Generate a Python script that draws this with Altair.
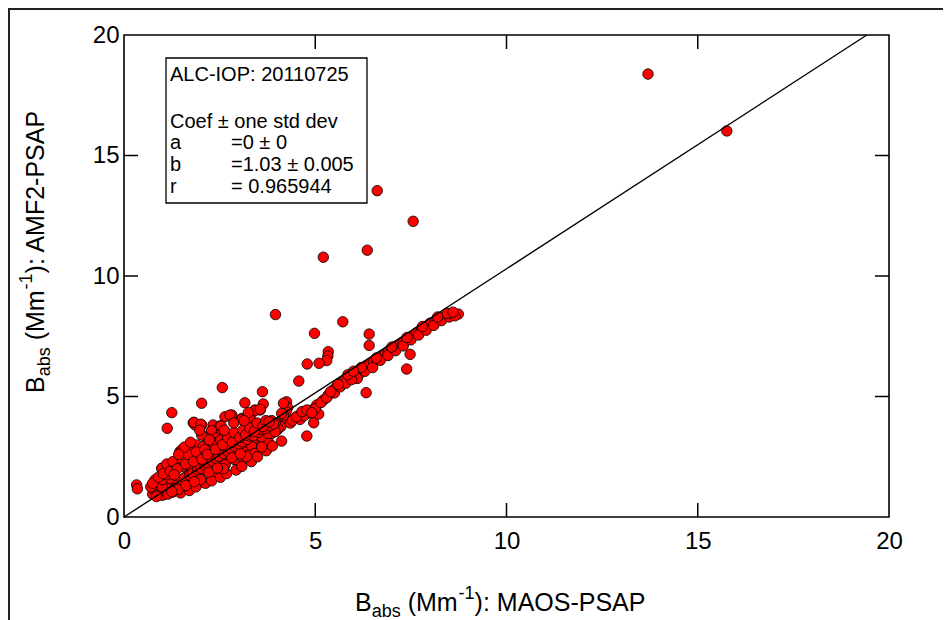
import altair as alt
import pandas as pd

# ---------------- data ----------------
# outliers / isolated points
xa = [13.70, 15.76, 6.62, 7.56, 6.36, 5.21, 3.96, 5.72, 4.98, 6.41, 6.41, 5.34, 5.33, 5.30, 4.79, 5.10,
      4.57, 7.48, 7.39, 6.33, 4.78, 4.96, 5.09, 2.57, 3.62, 2.03, 3.16, 3.64, 1.25, 1.13, 0.33, 0.35]
ya = [18.38, 16.02, 13.54, 12.27, 11.07, 10.78, 8.40, 8.10, 7.62, 7.59, 7.12, 6.86, 6.68, 6.49, 6.35, 6.38,
      5.64, 6.75, 6.14, 5.16, 3.36, 3.91, 4.27, 5.37, 5.20, 4.72, 4.74, 4.69, 4.33, 3.68, 1.33, 1.17]
# main band 4 - 8.7
xb = [3.99, 4.25, 4.51, 4.69, 4.91, 5.04, 5.21, 5.34, 5.47, 5.56, 5.69, 5.78, 5.91, 6.04, 6.17, 6.26, 6.34,
      6.43, 6.52, 6.61, 6.74, 6.82, 6.91, 7.00, 7.08, 7.22, 7.30, 7.39, 7.52, 7.65, 7.78, 7.87, 8.00, 8.13,
      8.22, 8.35, 8.48, 8.61, 8.74]
yb = [3.89, 3.96, 4.16, 4.37, 4.44, 4.65, 4.85, 5.06, 5.27, 5.41, 5.57, 5.68, 5.80, 5.89, 5.96, 6.10, 6.27,
      6.35, 6.44, 6.54, 6.65, 6.72, 6.86, 6.96, 7.07, 7.18, 7.23, 7.34, 7.48, 7.65, 7.79, 7.90, 8.04, 8.10,
      8.17, 8.29, 8.38, 8.42, 8.42]
xc = [6.10, 6.30, 6.50, 6.70, 6.90, 7.10, 7.30, 7.50, 7.70, 7.90, 8.10, 8.30, 8.50, 8.65, 6.20, 6.60, 7.00,
      7.40, 7.80, 8.20, 8.45, 8.60]
yc = [5.75, 6.05, 6.20, 6.50, 6.70, 6.90, 7.10, 7.35, 7.55, 7.75, 7.95, 8.15, 8.30, 8.35, 6.20, 6.60, 7.05,
      7.45, 7.90, 8.30, 8.45, 8.50]
xd = [4.10, 4.35, 4.60, 4.80, 5.00, 5.15, 5.30, 5.50, 5.65, 5.80, 5.95, 4.00, 4.40, 4.70, 5.40, 5.60, 5.85, 6.00]
yd = [3.75, 3.90, 4.05, 4.30, 4.50, 4.75, 4.95, 5.15, 5.40, 5.55, 5.70, 3.60, 4.00, 4.20, 5.20, 5.50, 5.90, 6.05]
# middle cloud
xe = [1.81, 1.86, 2.03, 2.64, 2.82, 3.08, 3.29, 3.42, 3.56, 3.29, 2.33, 2.51, 2.29, 2.47, 4.25, 4.28, 4.24,
      4.17, 3.86, 3.73, 3.51, 3.38, 3.12, 2.95, 2.77, 2.64, 4.51, 4.65, 4.78, 4.91, 1.46, 0.99]
ye = [3.91, 3.82, 3.82, 4.16, 4.23, 4.09, 4.16, 4.44, 4.44, 4.30, 3.82, 3.78, 3.54, 3.40, 4.78, 4.54, 4.37,
      4.23, 4.00, 3.47, 3.33, 3.03, 3.06, 2.92, 2.78, 2.16, 4.16, 4.37, 4.44, 4.33, 2.71, 2.02]
xf = [1.83, 2.01, 2.77, 3.08, 3.29, 3.42, 3.56, 3.25, 2.54, 2.29, 2.42, 2.16, 2.03, 2.68, 2.82, 2.99, 3.12, 3.25,
      3.34, 3.60, 3.77, 3.86, 4.03, 3.95,
      1.51, 1.73, 1.90, 2.07, 2.25, 2.42, 2.60, 2.77, 2.95, 3.12,
      1.46, 1.68, 1.86, 2.03, 2.20, 2.38, 2.55, 2.77, 2.99, 3.25, 3.42,
      0.99, 1.20, 1.38, 1.55, 1.77, 1.94, 2.12, 2.33, 2.64, 2.90, 3.12,
      0.81, 1.03, 1.20, 1.42, 1.64, 1.86, 2.07, 2.29,
      0.90, 1.07, 1.25, 1.46, 1.68, 1.90, 0.85, 1.07, 1.29, 1.51,
      3.60, 3.77, 3.95, 4.12, 4.17]
yf = [3.93, 3.85, 4.23, 4.05, 4.14, 4.41, 4.47, 4.33, 3.78, 3.58, 3.27, 3.27, 3.40, 3.47, 3.33, 3.40, 3.20, 3.47,
      2.92, 2.99, 3.12, 3.47, 3.68, 3.89,
      2.78, 2.85, 2.99, 2.92, 2.99, 2.85, 2.99, 2.92, 2.78, 2.71,
      2.50, 2.57, 2.43, 2.57, 2.43, 2.53, 2.43, 2.47, 2.47, 2.57, 2.64,
      2.02, 2.09, 2.16, 2.09, 1.95, 2.02, 1.95, 1.88, 2.16, 2.37, 2.43,
      1.54, 1.61, 1.67, 1.54, 1.67, 1.54, 1.46, 1.74,
      1.26, 1.19, 1.26, 1.33, 1.26, 1.33, 0.91, 0.95, 1.05, 1.12,
      3.33, 3.47, 3.54, 4.30, 4.72]
# along the fit line, below it, near the origin, above it
xg = [1.02, 1.12, 1.18, 1.33, 1.41, 1.52, 1.58, 1.72, 1.79, 1.93, 2.01, 2.12, 2.19, 2.31, 2.42, 2.48, 2.61,
      2.72, 2.79, 2.91, 3.02, 3.09, 3.22, 3.31, 3.38, 3.52, 3.61, 3.68, 3.82, 3.91]
yg = [0.98, 1.17, 1.22, 1.33, 1.42, 1.55, 1.62, 1.74, 1.81, 1.95, 2.02, 2.14, 2.21, 2.33, 2.41, 2.52, 2.63,
      2.71, 2.84, 2.93, 3.01, 3.12, 3.22, 3.35, 3.37, 3.51, 3.63, 3.66, 3.79, 3.86]
xh = [1.48, 1.71, 1.88, 2.13, 2.29, 2.52, 2.68, 2.93, 3.08, 3.33, 3.49, 3.72, 3.88, 4.12, 2.00, 2.60, 3.20,
      3.60, 1.22, 1.42, 1.62, 1.84, 2.22, 2.44, 2.82, 3.04]
yh = [1.00, 1.10, 1.25, 1.40, 1.50, 1.65, 1.80, 1.95, 2.10, 2.30, 2.50, 2.75, 2.95, 3.15, 1.55, 2.00, 2.50,
      2.90, 1.02, 1.14, 1.31, 1.47, 1.86, 2.03, 2.46, 2.62]
xi = [0.75, 0.80, 0.85, 0.90, 0.95, 1.00, 1.05, 0.80, 0.90, 1.10, 1.15, 1.25, 0.85, 1.00, 0.70, 0.75, 1.20,
      1.00, 1.10, 0.90]
yi = [0.95, 1.10, 1.20, 1.00, 1.30, 0.90, 1.10, 1.35, 1.45, 1.40, 0.95, 1.05, 0.85, 1.25, 1.25, 1.40, 1.60,
      1.55, 1.75, 1.65]
xj = [1.03, 1.12, 1.21, 1.28, 1.39, 1.52, 1.61, 1.68, 1.82, 1.89, 2.04, 2.11, 2.18, 2.32, 2.39, 2.53, 2.58,
      2.71, 2.83, 2.88, 3.03, 3.11, 3.18, 3.29, 3.41, 3.48, 3.63, 3.71, 3.79, 1.58, 1.74, 1.43, 1.31, 1.98,
      2.23, 2.62, 2.87, 3.14]
yj = [1.80, 2.20, 1.90, 2.30, 2.00, 2.40, 2.20, 2.60, 2.30, 2.70, 2.40, 2.80, 2.60, 3.10, 2.80, 3.20, 3.00,
      3.30, 3.10, 3.50, 3.30, 3.60, 3.40, 3.70, 3.55, 3.90, 3.75, 4.00, 3.95, 2.90, 3.10, 2.60, 1.75, 3.60,
      3.20, 3.60, 3.90, 4.00]

x_maos = xa + xb + xc + xd + xe + xf + xg + xh + xi + xj
y_amf2 = ya + yb + yc + yd + ye + yf + yg + yh + yi + yj

fit_x = [0.0, 19.42]
fit_y = [0.0, 20.0]
axis_values = [0, 5, 10, 15, 20]
inner_ticks = [5, 10, 15]

box_title = "ALC-IOP: 20110725"
box_head = "Coef \u00b1 one std dev"
coef_names = ["a", "b", "r"]
coef_vals = ["=0 \u00b1 0", "=1.03 \u00b1 0.005", "= 0.965944"]

# ---------------- chart ----------------
FONT = "Liberation Sans, Arial, Helvetica, sans-serif"
W, H = 765, 482
TL = 14  # inner tick length
PB = 103

xs = alt.Scale(domain=[0, 20], nice=False, zero=False)
ys = alt.Scale(domain=[0, 20], nice=False, zero=False)
x_axis = alt.Axis(values=axis_values, title=None, grid=False, ticks=False, domain=False,
                  labelFontSize=24, labelFont=FONT, labelColor="black", labelPadding=12,
                  labelFlush=False, labelOverlap=False, tickSize=0)
y_axis = alt.Axis(values=axis_values, title=None, grid=False, ticks=False, domain=False,
                  labelFontSize=24, labelFont=FONT, labelColor="black", labelPadding=5,
                  labelFlush=False, labelOverlap=False, tickSize=0)


def X(f):
    return alt.X(f, scale=xs, axis=x_axis)


def Y(f):
    return alt.Y(f, scale=ys, axis=y_axis)


pts = pd.DataFrame({"x": x_maos, "y": y_amf2})
points = alt.Chart(pts).mark_circle(
    size=110, fill="#ff0000", stroke="black", strokeWidth=0.8, opacity=1
).encode(x=X("x:Q"), y=Y("y:Q"))

fit = alt.Chart(pd.DataFrame({"x": fit_x, "y": fit_y})).mark_line(
    color="black", strokeWidth=1.4
).encode(x=X("x:Q"), y=Y("y:Q"))

tdf = pd.DataFrame({"v": inner_ticks})
tick_style = dict(color="black", strokeWidth=1.5)
t_bottom = alt.Chart(tdf).mark_rule(**tick_style).encode(
    x=X("v:Q"), y=alt.value(H), y2=alt.value(H - TL))
t_top = alt.Chart(tdf).mark_rule(**tick_style).encode(
    x=X("v:Q"), y=alt.value(0), y2=alt.value(TL))
t_left = alt.Chart(tdf).mark_rule(**tick_style).encode(
    y=Y("v:Q"), x=alt.value(0), x2=alt.value(TL))
t_right = alt.Chart(tdf).mark_rule(**tick_style).encode(
    y=Y("v:Q"), x=alt.value(W), x2=alt.value(W - TL))

one = pd.DataFrame({"k": [0]})


def txt(s, x, y, size, angle=0, baseline="alphabetic", align="left"):
    return alt.Chart(one).mark_text(
        text=s, fontSize=size, font=FONT, align=align, baseline=baseline, angle=angle, color="black"
    ).encode(x=alt.value(x), y=alt.value(y))


box = alt.Chart(one).mark_rect(fill="white", stroke="black", strokeWidth=1.3).encode(
    x=alt.value(42), x2=alt.value(243), y=alt.value(23), y2=alt.value(168))

BF = 20
box_txt = [
    txt(box_title, 46, 40, BF, baseline="middle"),
    txt(box_head, 46, 86.5, BF, baseline="middle"),
]
for i, (n, v) in enumerate(zip(coef_names, coef_vals)):
    yy = 107.7 + i * 22
    box_txt.append(txt(n, 46, yy, BF, baseline="middle"))
    box_txt.append(txt(v, 107, yy, BF, baseline="middle"))

# x title: B_abs (Mm^-1): MAOS-PSAP
T, S = 25, 18
x0 = 231
xt = [
    txt("B", x0, 576, T),
    txt("abs", x0 + 16.7, 582, S),
    txt("(Mm", x0 + 52.7, 576, T),
    txt("-1", x0 + 103.6, 564, S),
    txt("): MAOS-PSAP", x0 + 119.6, 576, T),
]
# y title (rotated, reading upward)
y0 = 358
yt = [
    txt("B", -80, y0, T, angle=270),
    txt("abs", -74, y0 - 16.7, S, angle=270),
    txt("(Mm", -80, y0 - 52.7, T, angle=270),
    txt("-1", -92, y0 - 103.6, S, angle=270),
    txt("): AMF2-PSAP", -80, y0 - 119.6, T, angle=270),
]

# page frame lines seen in the screenshot
frame_top = alt.Chart(one).mark_rule(color="#222222", strokeWidth=2).encode(
    x=alt.value(-116), x2=alt.value(W + 54), y=alt.value(-26))
frame_left = alt.Chart(one).mark_rule(color="#222222", strokeWidth=2).encode(
    x=alt.value(-115), y=alt.value(-27), y2=alt.value(H + PB))

chart = alt.layer(
    frame_top, frame_left, points, fit, t_bottom, t_top, t_left, t_right, box, *box_txt, *xt, *yt
).properties(
    width=W, height=H,
    padding={"left": 116, "top": 27, "right": 54, "bottom": PB},
    autosize=alt.AutoSizeParams(type="none"),
    background="white",
).configure_view(
    stroke="black", strokeWidth=1.6
)

chart.save("out.html", embed_options={"renderer": "svg", "actions": False})
